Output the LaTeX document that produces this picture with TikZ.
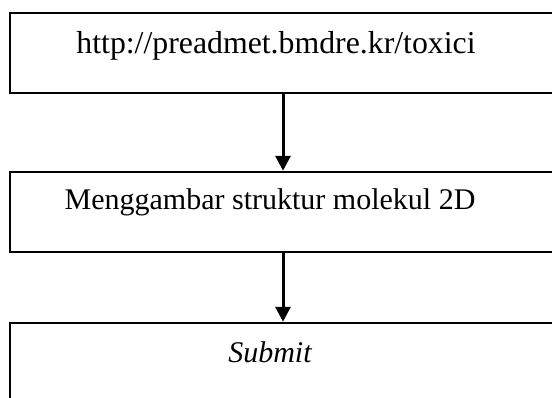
\documentclass[tikz,border=0pt]{standalone}
\usepackage{fontspec}
\setmainfont{Liberation Serif}
\usetikzlibrary{arrows.meta}
\tikzset{
  stepbox/.style={draw,line width=2.5pt,minimum width=546pt,minimum height=80pt,inner sep=0pt},
  steptext/.style={anchor=base,inner sep=0pt,font=\fontsize{30pt}{36pt}\selectfont},
  flowarrow/.style={line width=3pt,-{Triangle[length=15pt,width=15pt]}}
}
\begin{document}
\begin{tikzpicture}[x=1pt,y=-1pt]
      \useasboundingbox (0,0) rectangle (552,397);
      \clip (0,0) rectangle (552,397);
      \begin{scope}[shift={(0,0)}]
        % kotak langkah
        \node[stepbox] (url) at (283,53) {};
        \node[stepbox] (gambar) at (283,212) {};
        \node[stepbox] (submit) at (283,363) {};
        % teks
        \node[steptext,font=\fontsize{31.8pt}{38pt}\selectfont] (urltext) at (276,53) {http://preadmet.bmdre.kr/toxici};
        \node[steptext] (gambartext) at (270,209) {Menggambar struktur molekul 2D};
        \node[steptext] (submittext) at (270,362) {\itshape Submit};
        % panah
        \draw[flowarrow](url.south)--(gambar.north);
        \draw[flowarrow](gambar.south)--(submit.north);
      \end{scope}
    \end{tikzpicture}
\end{document}
